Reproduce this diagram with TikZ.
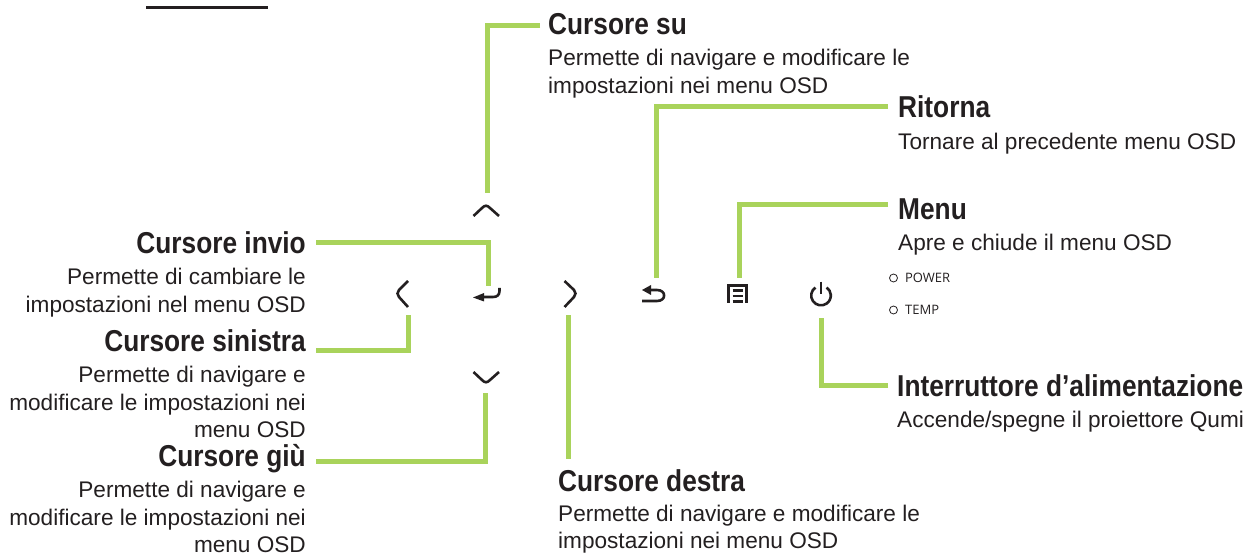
\documentclass[tikz,border=0pt]{standalone}
\usepackage{fontspec}
\setmainfont{Liberation Sans}
\newfontfamily\headfont[FakeStretch=0.87]{Liberation Sans Bold}
\newfontfamily\ledfont{Open Sans}
\usetikzlibrary{positioning}

\begin{document}
\begin{tikzpicture}[
  x=1pt,y=-1pt,
  node distance=8.5pt,
  lead/.style={draw=leadgreen,line width=5pt}, % green leader lines
  glyph/.style={draw=glyphblack,line width=2.6pt,line cap=butt}, % panel icons
  icon/.style={inner sep=0pt,minimum size=1pt},
  head/.style={inner sep=0pt,font=\headfont\fontsize{30.2}{30}\selectfont,text=glyphblack,text height=22pt,text depth=6pt},
  body/.style={inner sep=0pt,font=\fontsize{22.6}{27.3}\selectfont,text=glyphblack},
  led/.style={circle,draw=glyphblack,line width=0.8pt,minimum size=8pt,inner sep=0pt},
  ledtext/.style={inner sep=0pt,font=\ledfont\fontsize{13}{13}\selectfont,text=glyphblack}
  ]
  \definecolor{leadgreen}{HTML}{A9D35B}
  \definecolor{glyphblack}{HTML}{231F20}

  \useasboundingbox (0,0) rectangle (1251,556);

  % headings, body text under each one
  \node[head,anchor=base west] (su) at (548,34.5) {Cursore su};
  \node[body,align=left,below right=8.5pt and 0pt of su.south west] (sutext) {Permette di navigare e modificare le\\impostazioni nei menu OSD};
  \node[head,anchor=base west] (ritorna) at (898,118) {Ritorna};
  \node[body,align=left,below right=8.5pt and 0pt of ritorna.south west] (ritornatext) {Tornare al precedente menu OSD};
  \node[head,anchor=base west] (menu) at (898,219.5) {Menu};
  \node[body,align=left,below right=8pt and 0pt of menu.south west] (menutext) {Apre e chiude il menu OSD};
  \node[head,anchor=base west] (power) at (897,396.7) {Interruttore d’alimentazione};
  \node[body,align=left,below right=8pt and 0pt of power.south west] (powertext) {Accende/spegne il proiettore Qumi};
  \node[head,anchor=base west] (destra) at (558,491) {Cursore destra};
  \node[body,align=left,below right=7.5pt and 0pt of destra.south west] (destratext) {Permette di navigare e modificare le\\impostazioni nei menu OSD};

  \node[head,anchor=base east] (invio) at (306,253.7) {Cursore invio};
  \node[body,align=right,below left=8.5pt and 0pt of invio.south east] (inviotext) {Permette di cambiare le\\impostazioni nel menu OSD};
  \node[head,anchor=base east] (sinistra) at (306,351.7) {Cursore sinistra};
  \node[body,align=right,below left=8.5pt and 0pt of sinistra.south east] (sinistratext) {Permette di navigare e\\modificare le impostazioni nei\\menu OSD};
  \node[head,anchor=base east] (giu) at (306,466.7) {Cursore giù};
  \node[body,align=right,below left=8.5pt and 0pt of giu.south east] (giutext) {Permette di navigare e\\modificare le impostazioni nei\\menu OSD};

  % panel icons
  \node[icon] (up) at (486,210) {};
  \node[icon] (enter) at (486,292) {};
  \node[icon] (left) at (402,294) {};
  \node[icon] (right) at (570,294) {};
  \node[icon] (down) at (486,377) {};
  \node[icon] (back) at (654,293) {};
  \node[icon] (list) at (737,293) {};
  \node[icon] (onoff) at (821,295) {};

  \draw[glyph] (473.5,216) -- (482,208) .. controls (485,205) and (487,205) .. (490,208) -- (499,216);
  \draw[glyph] (473.5,372) -- (482,380) .. controls (485,383) and (487,383) .. (490,380) -- (499,372);
  \draw[glyph] (408,281) -- (399,290) .. controls (397,292) and (397,295) .. (399,297) -- (408,307);
  \draw[glyph] (564.5,281) -- (574,290) .. controls (576,292) and (576,295) .. (574,297) -- (564.5,307);
  \draw[glyph] (499.5,288) -- (499.5,291) .. controls (499.5,295) and (497,297) .. (493,297) -- (482,297);
  \fill[glyphblack] (473,297.5) -- (484,293) -- (484,301.5) -- cycle;
  \draw[glyph] (642,301) -- (657,301) .. controls (666.5,301) and (666.5,290) .. (657,290) -- (649,290);
  \fill[glyphblack] (642,290) -- (651,285) -- (651,295) -- cycle;
  \draw[glyph] (728.3,303) -- (728.3,285.5) -- (746.7,285.5) -- (746.7,303);
  \draw[glyph] (732.5,290.5) -- (742.7,290.5) (732.5,296) -- (742.7,296) (732.5,301.7) -- (742.7,301.7);
  \draw[glyph] (815.4,287.5) arc[start angle=-125,end angle=-415,radius=9.8];
  \draw[glyph] (821,281.7) -- (821,294);

  % indicator lamps
  \node[led] (powerled) at (893.5,278) {};
  \node[ledtext,right=7pt of powerled] (powerlabel) {POWER};
  \node[led] (templed) at (893.5,310) {};
  \node[ledtext,right=7pt of templed] (templabel) {TEMP};

  % free ends of the leaders
  \coordinate (sustart) at (540,26);
  \coordinate (suend) at (487,193);
  \coordinate (inviostart) at (316,243);
  \coordinate (invioend) at (488,286);
  \coordinate (sinistrastart) at (316,350);
  \coordinate (sinistraend) at (408,315);
  \coordinate (giustart) at (316,461);
  \coordinate (giuend) at (485,393);
  \coordinate (destratop) at (568,315);
  \coordinate (destraend) at (568,458.5);
  \coordinate (ritornastart) at (888,107);
  \coordinate (ritornaend) at (656,278);
  \coordinate (menustart) at (888,205);
  \coordinate (menuend) at (739,278);
  \coordinate (powerstart) at (888,385);
  \coordinate (powerend) at (821,318);

  \draw[lead] (sustart) -| (suend);
  \draw[lead] (inviostart) -| (invioend);
  \draw[lead] (sinistrastart) -| (sinistraend);
  \draw[lead] (giustart) -| (giuend);
  \draw[lead] (destratop) -- (destraend);
  \draw[lead] (ritornastart) -| (ritornaend);
  \draw[lead] (menustart) -| (menuend);
  \draw[lead] (powerstart) -| (powerend);

  \coordinate (rulestart) at (146,8);
  \coordinate (ruleend) at (268,8);
  \draw[glyphblack,line width=3pt] (rulestart) -- (ruleend);
\end{tikzpicture}
\end{document}
